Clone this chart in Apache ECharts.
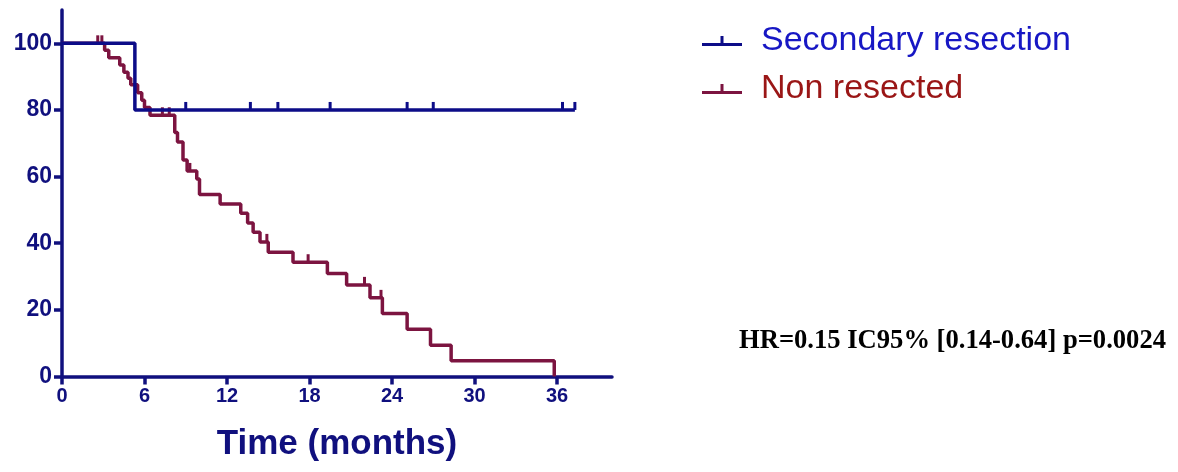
<!DOCTYPE html>
<html>
<head>
<meta charset="utf-8">
<script src="https://cdn.jsdelivr.net/npm/echarts@6/dist/echarts.min.js"></script>
<style>
  html, body { margin: 0; padding: 0; background: #ffffff; }
  #chart { width: 1178px; height: 472px; }
</style>
</head>
<body>
<div id="chart"></div>
<script>
// Kaplan-Meier survival (%) by month: [time, survival after the step]
const resectedSteps = [[0, 100], [5.3, 80], [37.3, 80]];
const resectedCensored = [[9.0, 80], [13.7, 80], [15.7, 80], [19.5, 80], [25.1, 80], [27.0, 80], [36.4, 80], [37.3, 80]];

const nonResectedSteps = [
  [0, 100], [3.1, 97.9], [3.4, 95.7], [4.2, 93.5], [4.5, 91.3], [4.8, 89.5], [5.0, 87.6],
  [5.5, 85.2], [5.8, 82.9], [6.0, 80.7], [6.4, 78.4], [8.2, 73.2], [8.4, 70.4], [8.8, 65.0],
  [9.1, 61.7], [9.8, 59.3], [10.0, 54.6], [11.5, 51.8], [13.0, 49.0], [13.5, 46.1], [13.9, 43.3],
  [14.4, 40.4], [15.0, 37.3], [16.8, 34.3], [19.3, 30.9], [20.7, 27.5], [22.4, 23.6], [23.3, 18.9],
  [25.1, 14.2], [26.8, 9.4], [28.3, 4.7], [35.8, 0]
];
const nonResectedCensored = [[2.6, 100], [2.9, 100], [7.3, 78.4], [7.8, 78.4], [9.3, 61.7], [14.9, 40.4], [17.9, 34.3], [22.0, 27.5], [23.2, 23.6]];

const xTicks = [0, 6, 12, 18, 24, 30, 36];
const yTicks = [0, 20, 40, 60, 80, 100];
const seriesNames = ['Secondary resection', 'Non resected'];
const statsText = 'HR=0.15 IC95% [0.14-0.64] p=0.0024';

const AXIS = '#10107e';
const BLUE = '#0c0c88';
const RED = '#7c1440';

const chart = echarts.init(document.getElementById('chart'), null, { renderer: 'canvas' });

// censored observations: short vertical ticks standing on the curve
const tickMark = {
  symbol: 'rect',
  symbolSize: [3, 8],
  symbolOffset: [0, -4]
};

chart.setOption({
  animation: false,
  backgroundColor: '#ffffff',
  grid: { left: 62, right: 566, top: 10, bottom: 95.5, containLabel: false, outerBoundsMode: 'none' },
  xAxis: {
    type: 'value', min: 0, max: 40,
    axisLine: { onZero: false, lineStyle: { color: AXIS, width: 3.5 } },
    axisTick: { customValues: xTicks, length: 8, lineStyle: { color: AXIS, width: 3.5 } },
    axisLabel: {
      customValues: xTicks, margin: 10, color: AXIS,
      fontFamily: 'Liberation Sans', fontWeight: 'bold', fontSize: 20
    },
    splitLine: { show: false },
    name: 'Time (months)', nameLocation: 'middle', nameGap: 50,
    nameTextStyle: { color: AXIS, fontFamily: 'Liberation Sans', fontWeight: 'bold', fontSize: 35 }
  },
  yAxis: {
    type: 'value', min: 0, max: 110,
    axisLine: { onZero: false, lineStyle: { color: AXIS, width: 3.5 } },
    axisTick: { customValues: yTicks, length: 8, lineStyle: { color: AXIS, width: 3.5 } },
    axisLabel: {
      customValues: yTicks, margin: 10, color: AXIS,
      fontFamily: 'Liberation Sans', fontWeight: 'bold', fontSize: 23
    },
    splitLine: { show: false }
  },
  legend: {
    orient: 'vertical', left: 697, top: 19,
    itemWidth: 40, itemHeight: 10, itemGap: 14,
    data: [
      { name: seriesNames[0], icon: 'path://M0,7H40V10H0Z M18.5,0H21.5V7H18.5Z',
        textStyle: { color: '#1717c4' } },
      { name: seriesNames[1], icon: 'path://M0,7H40V10H0Z M18.5,0H21.5V7H18.5Z',
        textStyle: { color: '#9a1616' } }
    ],
    textStyle: { fontFamily: 'Liberation Sans', fontSize: 34, padding: [0, 0, 0, 14] },
    selectedMode: false
  },
  graphic: [{
    type: 'text', left: 739, top: 328,
    style: {
      text: statsText, fill: '#000000',
      font: 'bold 26.6px "Liberation Serif", "Times New Roman", serif'
    }
  }],
  series: [
    {
      name: seriesNames[1], type: 'line', step: 'end', data: nonResectedSteps,
      showSymbol: false, symbol: 'none', color: RED,
      lineStyle: { color: RED, width: 3.5 }, z: 2
    },
    {
      name: 'nonResectedCensored', type: 'scatter', data: nonResectedCensored,
      ...tickMark, itemStyle: { color: RED, opacity: 1 }, z: 3
    },
    {
      name: seriesNames[0], type: 'line', step: 'end', data: resectedSteps,
      showSymbol: false, symbol: 'none', color: BLUE,
      lineStyle: { color: BLUE, width: 3.5 }, z: 4
    },
    {
      name: 'resectedCensored', type: 'scatter', data: resectedCensored,
      ...tickMark, itemStyle: { color: BLUE, opacity: 1 }, z: 5
    }
  ]
});
</script>
</body>
</html>
